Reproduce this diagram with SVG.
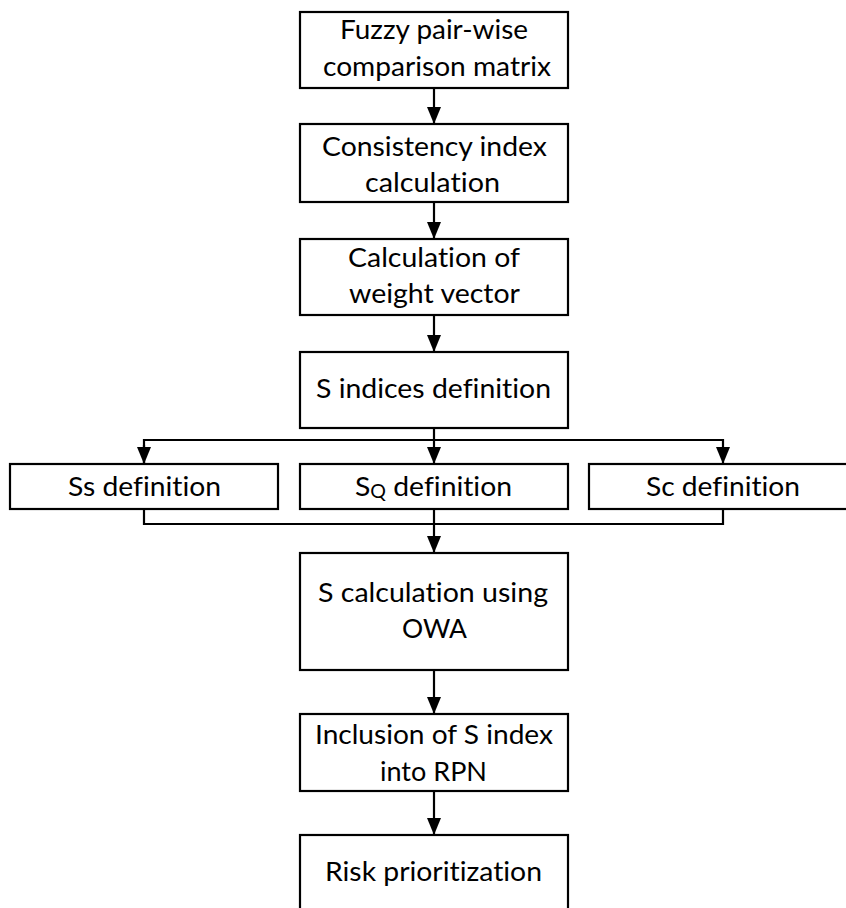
<svg xmlns="http://www.w3.org/2000/svg" width="846" height="908" viewBox="0 0 846 908">
<style>
.box{fill:#fff;stroke:#000;stroke-width:2.2}
.t{font-family:Lato,"Open Sans","Liberation Sans",sans-serif;font-size:27.5px;fill:#000;text-anchor:middle;font-variant-ligatures:none}
.c{fill:none;stroke:#000;stroke-width:2.2}
</style>
<defs>
<marker id="ah" viewBox="0 0 17 14" refX="17" refY="7" markerWidth="17" markerHeight="14" markerUnits="userSpaceOnUse" orient="auto">
<path d="M0,0 L17,7 L0,14 Z" fill="#000"/>
</marker>
</defs>
<rect width="846" height="908" fill="#fff"/>
<g id="connectors">
<line class="c" x1="434" y1="88" x2="434" y2="124" marker-end="url(#ah)"/>
<line class="c" x1="434" y1="202" x2="434" y2="239" marker-end="url(#ah)"/>
<line class="c" x1="434" y1="315" x2="434" y2="352" marker-end="url(#ah)"/>
<line class="c" x1="434" y1="428" x2="434" y2="440"/>
<polyline class="c" points="144,464 144,440 723,440 723,464" marker-end="url(#ah)"/>
<path class="c" d="M144,445 L144,464" marker-end="url(#ah)"/>
<line class="c" x1="434" y1="440" x2="434" y2="464" marker-end="url(#ah)"/>
<polyline class="c" points="144,509 144,524 723,524 723,509"/>
<line class="c" x1="434" y1="509" x2="434" y2="553" marker-end="url(#ah)"/>
<line class="c" x1="434" y1="670" x2="434" y2="714" marker-end="url(#ah)"/>
<line class="c" x1="434" y1="791" x2="434" y2="835" marker-end="url(#ah)"/>
</g>
<g id="n1">
<rect class="box" x="300" y="12" width="268" height="76"/>
<text class="t" x="434" y="39" textLength="188" lengthAdjust="spacingAndGlyphs">Fuzzy pair-wise</text>
<text class="t" x="437" y="76" textLength="228" lengthAdjust="spacingAndGlyphs">comparison matrix</text>
</g>
<g id="n2">
<rect class="box" x="300" y="124" width="268" height="78"/>
<text class="t" x="434.5" y="156" textLength="225" lengthAdjust="spacingAndGlyphs">Consistency index</text>
<text class="t" x="432.5" y="192" textLength="135" lengthAdjust="spacingAndGlyphs">calculation</text>
</g>
<g id="n3">
<rect class="box" x="300" y="239" width="268" height="76"/>
<text class="t" x="434" y="267" textLength="172" lengthAdjust="spacingAndGlyphs">Calculation of</text>
<text class="t" x="434.5" y="303" textLength="171" lengthAdjust="spacingAndGlyphs">weight vector</text>
</g>
<g id="n4">
<rect class="box" x="300" y="352" width="268" height="76"/>
<text class="t" x="433.5" y="398" textLength="235" lengthAdjust="spacingAndGlyphs">S indices definition</text>
</g>
<g id="n5a">
<rect class="box" x="10" y="464" width="268" height="45"/>
<text class="t" x="144.5" y="496" textLength="153" lengthAdjust="spacingAndGlyphs">Ss definition</text>
</g>
<g id="n5b">
<rect class="box" x="300" y="464" width="268" height="45"/>
<text class="t" x="433.5" y="496" textLength="157" lengthAdjust="spacingAndGlyphs">S<tspan font-size="19" dy="2">Q</tspan><tspan dy="-2"> definition</tspan></text>
</g>
<g id="n5c">
<rect class="box" x="589" y="464" width="280" height="45"/>
<text class="t" x="723" y="496" textLength="154" lengthAdjust="spacingAndGlyphs">Sc definition</text>
</g>
<g id="n6">
<rect class="box" x="300" y="553" width="268" height="117"/>
<text class="t" x="433" y="602" textLength="230" lengthAdjust="spacingAndGlyphs">S calculation using</text>
<text class="t" x="434.5" y="638" textLength="65" lengthAdjust="spacingAndGlyphs">OWA</text>
</g>
<g id="n7">
<rect class="box" x="300" y="714" width="268" height="77"/>
<text class="t" x="434" y="744" textLength="238" lengthAdjust="spacingAndGlyphs">Inclusion of S index</text>
<text class="t" x="433.5" y="781" textLength="107" lengthAdjust="spacingAndGlyphs">into RPN</text>
</g>
<g id="n8">
<rect class="box" x="300" y="835" width="268" height="90"/>
<text class="t" x="433.5" y="881" textLength="217" lengthAdjust="spacingAndGlyphs">Risk prioritization</text>
</g>
</svg>
